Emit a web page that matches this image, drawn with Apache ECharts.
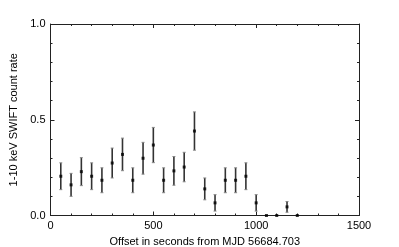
<!DOCTYPE html>
<html>
<head>
<meta charset="utf-8">
<script src="https://cdn.jsdelivr.net/npm/echarts@6/dist/echarts.min.js"></script>
<style>
html,body{margin:0;padding:0;background:#fff;}
#c{width:399px;height:247px;}
</style>
</head>
<body>
<div id="c"></div>
<script>
var offsets = [50,100,150,200,250,300,350,400,450,500,550,600,650,700,750,800,850,900,950,1000,1050,1100,1150,1200];
var rates   = [0.205,0.16,0.229,0.205,0.184,0.274,0.319,0.184,0.299,0.368,0.184,0.233,0.253,0.441,0.139,0.066,0.184,0.184,0.205,0.066,0,0,0.045,0];
var errors  = [0.07,0.06,0.073,0.07,0.065,0.078,0.085,0.065,0.083,0.092,0.065,0.075,0.077,0.1,0.057,0.043,0.065,0.065,0.07,0.043,0,0,0.028,0];
var xTicks = [0,500,1000,1500];
var yTicks = [0.0,0.5,1.0];

var pts = offsets.map(function(x,i){return [x,rates[i]];});
var errData = offsets.map(function(x,i){return [x,rates[i]-errors[i],rates[i]+errors[i]];});

var font = 'Liberation Sans, Arial, sans-serif';
var lineCol = '#222';

function axisCommon(showLabel, pos){
  return {
    position: pos,
    axisLine:{show:true,onZero:false,lineStyle:{color:lineCol,width:1}},
    axisTick:{show:true,inside:true,length:4,lineStyle:{color:lineCol,width:1}},
    minorTick:{show:true,splitNumber:5,length:2,lineStyle:{color:lineCol,width:1}},
    splitLine:{show:false},
    minorSplitLine:{show:false},
    axisLabel:{show:showLabel,color:'#000',fontFamily:font,fontSize:11}
  };
}

var xa = axisCommon(true,'bottom');
xa.type='value'; xa.min=0; xa.max=1500; xa.interval=500;
xa.name='Offset in seconds from MJD 56684.703';
xa.nameLocation='middle'; xa.nameGap=18;
xa.nameTextStyle={color:'#000',fontFamily:font,fontSize:11};
xa.axisLabel.margin=5;
xa.axisLabel.formatter=function(v){return xTicks.indexOf(v)>=0?String(v):'';};

var xb = axisCommon(false,'top');
xb.type='value'; xb.min=0; xb.max=1500; xb.interval=500;

var ya = axisCommon(true,'left');
ya.type='value'; ya.min=0; ya.max=1; ya.interval=0.5;
ya.name='1-10 keV SWIFT count rate';
ya.nameLocation='middle'; ya.nameGap=24;
ya.nameTextStyle={color:'#000',fontFamily:font,fontSize:11};
ya.axisLabel.margin=5;
ya.axisLabel.formatter=function(v){
  for(var i=0;i<yTicks.length;i++){ if(Math.abs(yTicks[i]-v)<1e-9) return yTicks[i].toFixed(1);} return '';
};

var yb = axisCommon(false,'right');
yb.type='value'; yb.min=0; yb.max=1; yb.interval=0.5;

var chart = echarts.init(document.getElementById('c'),null,{renderer:'canvas'});
chart.setOption({
  animation:false,
  backgroundColor:'#fff',
  grid:{left:50.5,right:40,top:24,bottom:31.5,containLabel:false,outerBoundsMode:'none'},
  xAxis:[xa,xb],
  yAxis:[ya,yb],
  series:[
    {
      type:'custom',
      xAxisIndex:0,yAxisIndex:0,
      data:errData,
      renderItem:function(params,api){
        var x=api.value(0), lo=api.value(1), hi=api.value(2);
        if(hi-lo<=0) return null;
        var p1=api.coord([x,lo]), p2=api.coord([x,hi]);
        var cw=1.5;
        return {type:'group',children:[
          {type:'line',shape:{x1:p1[0],y1:p1[1],x2:p2[0],y2:p2[1]},style:{stroke:'#333',lineWidth:1.6}},
          {type:'line',shape:{x1:p1[0]-cw,y1:p1[1],x2:p1[0]+cw,y2:p1[1]},style:{stroke:'#888',lineWidth:1}},
          {type:'line',shape:{x1:p2[0]-cw,y1:p2[1],x2:p2[0]+cw,y2:p2[1]},style:{stroke:'#888',lineWidth:1}}
        ]};
      },
      z:2
    },
    {
      type:'scatter',
      xAxisIndex:0,yAxisIndex:0,
      data:pts,
      symbol:'rect',
      symbolSize:3,
      itemStyle:{color:'#000'},
      z:3
    }
  ]
});
</script>
</body>
</html>
